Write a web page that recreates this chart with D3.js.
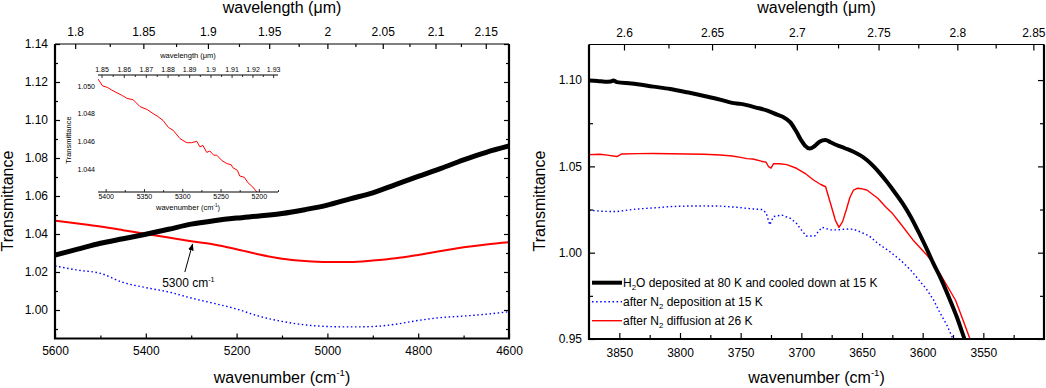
<!DOCTYPE html>
<html><head><meta charset="utf-8">
<script src="https://cdn.jsdelivr.net/npm/d3@7"></script>
<style>
body{margin:0;background:#fff}
svg{display:block;font-family:"Liberation Sans",Arial,Helvetica,sans-serif}
</style></head><body>
<svg id="chart" width="1046" height="388"></svg>
<script>
// ---------- DATA ----------
// Left panel (near-IR)
const nirWn     = [5600,5550,5500,5450,5400,5350,5300,5250,5200,5150,5100,5050,5000,4950,4900,4850,4800,4750,4700,4650,4600];
const nirH2O    = [1.0289,1.0320,1.0351,1.0375,1.0399,1.0425,1.0452,1.0470,1.0484,1.0495,1.0508,1.0528,1.0552,1.0585,1.0617,1.0660,1.0703,1.0745,1.0790,1.0830,1.0863];
const nirN2Dep  = [1.0232,1.0210,1.0193,1.0145,1.0118,1.0095,1.0063,1.0035,1.0005,0.9967,0.9940,0.9922,0.9913,0.9911,0.9913,0.9925,0.9945,0.9960,0.9968,0.9978,0.9991];
const nirN2Diff = [1.0470,1.0455,1.0439,1.0420,1.0400,1.0381,1.0362,1.0345,1.0320,1.0292,1.0270,1.0258,1.0252,1.0252,1.0260,1.0272,1.0290,1.0310,1.0330,1.0345,1.0356];
// Inset (zoom around 5300 cm-1)
const insetWn = [5410,5404,5398,5392,5385,5378,5372,5364,5355,5346,5338,5332,5325,5318,5312,5303,5294,5288,5281,5277,5273,5268,5264,5259,5255,5248,5242,5236,5234,5228,5225,5219,5214,5208,5202,5196];
const insetT  = [1.0505,1.0500,1.0499,1.0497,1.0495,1.0493,1.0491,1.0490,1.0485,1.0483,1.0480,1.0478,1.0475,1.0470,1.0468,1.0462,1.0459,1.0459,1.0460,1.0456,1.0457,1.0452,1.0453,1.0450,1.0450,1.0446,1.0444,1.0443,1.0441,1.0439,1.0435,1.0434,1.0430,1.0427,1.0423,1.0419];
// Right panel (OH stretch region)
const mirH2OWn = [3875,3868,3862,3857,3855,3852,3840,3822,3808,3794,3780,3767,3757,3750,3745,3738,3728,3720,3715,3709,3704,3700,3697,3693,3689,3685,3680,3676,3671,3664,3657,3651,3646,3640,3635,3630,3624,3616,3610,3602,3596,3591,3585,3577.5,3572,3566.5,3562];
const mirH2O   = [1.0997,1.0995,1.0990,1.0992,1.0998,1.0988,1.0980,1.0962,1.0948,1.0929,1.0908,1.0887,1.0868,1.0862,1.0855,1.0842,1.0823,1.0800,1.0786,1.0755,1.0700,1.0650,1.0620,1.0603,1.0618,1.0643,1.0653,1.0640,1.0624,1.0605,1.0585,1.0562,1.0537,1.0497,1.0458,1.0415,1.0359,1.0280,1.0210,1.0100,1.0012,0.9935,0.9850,0.9726,0.9630,0.9520,0.9430];
const mirN2DepWn = [3875,3865,3852,3845,3835.7,3820,3808,3795,3781,3767,3753,3745,3738,3732,3729,3726,3723,3716,3709,3704,3701,3696,3689,3683,3676,3670,3663,3657,3652,3644,3637,3627,3618,3610,3597,3591,3586,3580,3575,3572];
const mirN2Dep   = [1.0247,1.0240,1.0238,1.0245,1.0253,1.0260,1.0267,1.0270,1.0271,1.0270,1.0263,1.0257,1.0252,1.0250,1.0230,1.0161,1.0209,1.0218,1.0199,1.0170,1.0141,1.0097,1.0097,1.0147,1.0132,1.0132,1.0137,1.0136,1.0122,1.0097,1.0054,1.0006,0.9955,0.9900,0.9790,0.9726,0.9655,0.9580,0.9500,0.9450];
const mirN2DiffWn = [3875,3866,3860,3852,3848,3835,3822,3808,3794,3780,3767,3757,3750,3745,3740,3733,3729,3727,3725,3723,3718,3712,3704,3697,3690,3684,3680,3676,3672,3669,3666,3663,3660,3657,3654,3650,3646,3637,3630,3625,3619,3608,3597,3591,3586,3580,3573,3567,3561,3557];
const mirN2Diff   = [1.0568,1.0570,1.0565,1.0557,1.0572,1.0574,1.0575,1.0573,1.0572,1.0570,1.0566,1.0560,1.0552,1.0545,1.0543,1.0530,1.0524,1.0498,1.0490,1.0515,1.0515,1.0510,1.0489,1.0460,1.0421,1.0395,1.0382,1.0286,1.0189,1.0147,1.0180,1.0247,1.0320,1.0363,1.0373,1.0370,1.0363,1.0315,1.0262,1.0228,1.0175,1.0074,0.9990,0.9935,0.9881,0.9810,0.9726,0.9615,0.9500,0.9440];

// Ticks
const nirWnMajor = [5600,5400,5200,5000,4800,4600];
const nirWnMinor = [5500,5300,5100,4900,4700];
const nirLamMajor = [1.8,1.85,1.9,1.95,2,2.05,2.1,2.15];
const nirLamMinor = [1.825,1.875,1.925,1.975,2.025,2.075,2.125];
const nirTMajor = [1.00,1.02,1.04,1.06,1.08,1.10,1.12,1.14];
const nirTMinor = [0.99,1.01,1.03,1.05,1.07,1.09,1.11,1.13];
const insetWnMajor = [5400,5350,5300,5250,5200];
const insetWnMinor = [5375,5325,5275,5225,5175];
const insetLamMajor = [1.85,1.86,1.87,1.88,1.89,1.9,1.91,1.92,1.93];
const insetLamMinor = [1.855,1.865,1.875,1.885,1.895,1.905,1.915,1.925];
const insetTMajor = [1.044,1.046,1.048,1.050];
const mirWnMajor = [3850,3800,3750,3700,3650,3600,3550];
const mirWnMinor = [3825,3775,3725,3675,3625,3575,3525];
const mirLamMajor = [2.6,2.65,2.7,2.75,2.8,2.85];
const mirLamMinor = [2.625,2.675,2.725,2.775,2.825];
const mirTMajor = [0.95,1.00,1.05,1.10];
const mirTMinor = [0.975,1.025,1.075];

const legendLabels = [
  ["H","2","O deposited at 80 K and cooled down at 15 K"],
  ["after N","2"," deposition at 15 K"],
  ["after N","2"," diffusion at 26 K"]
];
const annotationText = "5300 cm";

// ---------- DRAW ----------
const svg = d3.select("#chart");
const styles = {
  dep:  {stroke:"#0000ff", width:1.4, dash:"1.5,2.6"}
};

function lamFmt(w){ return String(+(1e4/w).toFixed(3)); }

function drawAxes(g, x, y, box, o){
  const fs = o.fs || 12;
  const maj = o.maj || 5, min = o.min || 3;
  const clean = s => s.call(a=>a.select(".domain").remove())
    .call(a=>a.selectAll("line").attr("stroke","#000").attr("stroke-width",o.tw||1.2))
    .call(a=>a.selectAll("text").attr("font-size",fs).attr("fill","#000").attr("font-family",null));
  g.append("g").attr("transform",`translate(0,${box.y1})`)
    .call(d3.axisBottom(x).tickValues(o.xMajor).tickSize(-maj).tickPadding(o.bPad).tickFormat(d3.format("d"))).call(clean);
  g.append("g").attr("transform",`translate(0,${box.y1})`)
    .call(d3.axisBottom(x).tickValues(o.xMinor).tickSize(-min).tickFormat("")).call(clean);
  g.append("g").attr("transform",`translate(0,${box.y0})`)
    .call(d3.axisTop(x).tickValues(o.lMajor.map(l=>1e4/l)).tickSize(-maj).tickPadding(o.tPad).tickFormat(lamFmt)).call(clean);
  g.append("g").attr("transform",`translate(0,${box.y0})`)
    .call(d3.axisTop(x).tickValues(o.lMinor.map(l=>1e4/l)).tickSize(-min).tickFormat("")).call(clean);
  g.append("g").attr("transform",`translate(${box.x0},0)`)
    .call(d3.axisLeft(y).tickValues(o.yMajor).tickSize(-maj).tickPadding(o.lPad).tickFormat(o.yFmt)).call(clean);
  g.append("g").attr("transform",`translate(${box.x0},0)`)
    .call(d3.axisLeft(y).tickValues(o.yMinor).tickSize(-min).tickFormat("")).call(clean);
  g.append("g").attr("transform",`translate(${box.x1},0)`)
    .call(d3.axisRight(y).tickValues(o.yMajor).tickSize(-maj).tickFormat("")).call(clean);
  g.append("g").attr("transform",`translate(${box.x1},0)`)
    .call(d3.axisRight(y).tickValues(o.yMinor).tickSize(-min).tickFormat("")).call(clean);
}

function frame(g, box){
  g.append("line").attr("x1",box.x0).attr("x2",box.x1).attr("y1",box.y0).attr("y2",box.y0).attr("stroke","#000").attr("stroke-width",1.2);
  g.append("path").attr("d",`M${box.x0},${box.y0}V${box.y1}H${box.x1}V${box.y0}`).attr("fill","none").attr("stroke","#000").attr("stroke-width",2.2);
}

function drawSeries(g, x, y, xs, ys, st, clipId, curve){
  const line = d3.line().x(d=>x(d[0])).y(d=>y(d[1])).curve(curve||d3.curveLinear);
  const p = g.append("path").datum(xs.map((v,i)=>[v,ys[i]]))
    .attr("d",line).attr("fill","none").attr("stroke",st.stroke).attr("stroke-width",st.width)
    .attr("stroke-linejoin","round");
  if (st.dash) p.attr("stroke-dasharray",st.dash);
  if (clipId) p.attr("clip-path",`url(#${clipId})`);
  return p;
}

function cmLabel(sel, base, sup){
  sel.append("tspan").text(base);
  sel.append("tspan").attr("font-size","0.6em").attr("dy","-0.75em").text(sup);
  sel.append("tspan").attr("dy","0.45em").text(")");
}

const defs = svg.append("defs");

// ===== LEFT PANEL =====
const LB = {x0:55, x1:509, y0:44, y1:338.5};
const xL = d3.scaleLinear().domain([5600,4600]).range([LB.x0,LB.x1]);
const yL = d3.scaleLinear().domain([0.985,1.14]).range([LB.y1,LB.y0]);
const gL = svg.append("g");
defs.append("clipPath").attr("id","clipL").append("rect").attr("x",LB.x0).attr("y",LB.y0).attr("width",LB.x1-LB.x0).attr("height",LB.y1-LB.y0);

drawSeries(gL,xL,yL,nirWn,nirN2Dep,styles.dep,"clipL",d3.curveMonotoneX);
drawSeries(gL,xL,yL,nirWn,nirN2Diff,{stroke:"#ff0000",width:2},"clipL",d3.curveMonotoneX);
drawSeries(gL,xL,yL,nirWn,nirH2O,{stroke:"#000",width:5},"clipL",d3.curveMonotoneX);

drawAxes(gL,xL,yL,LB,{xMajor:nirWnMajor,xMinor:nirWnMinor,lMajor:nirLamMajor,lMinor:nirLamMinor,
  yMajor:nirTMajor,yMinor:nirTMinor,yFmt:d3.format(".2f"),bPad:8,tPad:8,lPad:7});
frame(gL,LB);

// annotation arrow
defs.append("marker").attr("id","arrowhead").attr("viewBox","0 0 10 10").attr("refX",9).attr("refY",5)
  .attr("markerWidth",7).attr("markerHeight",7).attr("orient","auto-start-reverse")
  .append("path").attr("d","M0,1L10,5L0,9Z").attr("fill","#000");
gL.append("line").attr("x1",xL(5314)).attr("y1",yL(1.0200)).attr("x2",xL(5297)).attr("y2",yL(1.0347))
  .attr("stroke","#000").attr("stroke-width",1).attr("marker-end","url(#arrowhead)");
const ann = gL.append("text").attr("x",xL(5364)).attr("y",yL(1.0121)).attr("font-size",12);
ann.append("tspan").text(annotationText);
ann.append("tspan").attr("font-size","0.6em").attr("dy","-0.75em").text("-1");

gL.append("text").attr("x",(LB.x0+LB.x1)/2).attr("y",13).attr("text-anchor","middle").attr("font-size",16).text("wavelength (μm)");
cmLabel(gL.append("text").attr("x",(LB.x0+LB.x1)/2).attr("y",383).attr("text-anchor","middle").attr("font-size",16),"wavenumber (cm","-1");
gL.append("text").attr("transform","translate(13,201) rotate(-90)").attr("text-anchor","middle").attr("font-size",16).text("Transmittance");

// ----- INSET -----
const IB = {x0:98, x1:278, y0:75, y1:192};
const xI = d3.scaleLinear().domain([5410,5175]).range([IB.x0,IB.x1]);
const yI = d3.scaleLinear().domain([1.04234,1.05079]).range([IB.y1,IB.y0]);
const gI = svg.append("g");
defs.append("clipPath").attr("id","clipI").append("rect").attr("x",IB.x0).attr("y",IB.y0).attr("width",IB.x1-IB.x0).attr("height",IB.y1-IB.y0);
drawSeries(gI,xI,yI,insetWn,insetT,{stroke:"#ff0000",width:1},"clipI");
const cleanI = s => s.call(a=>a.select(".domain").remove())
  .call(a=>a.selectAll("line").attr("stroke","#000").attr("stroke-width",0.8))
  .call(a=>a.selectAll("text").attr("font-size",7).attr("fill","#000").attr("font-family",null));
gI.append("g").attr("transform",`translate(0,${IB.y1})`).call(d3.axisBottom(xI).tickValues(insetWnMajor).tickSize(-3).tickPadding(2).tickFormat(d3.format("d"))).call(cleanI);
gI.append("g").attr("transform",`translate(0,${IB.y1})`).call(d3.axisBottom(xI).tickValues(insetWnMinor).tickSize(-2).tickFormat("")).call(cleanI);
gI.append("g").attr("transform",`translate(0,${IB.y0})`).call(d3.axisTop(xI).tickValues(insetLamMajor.map(l=>1e4/l)).tickSize(-3).tickPadding(3).tickFormat(lamFmt)).call(cleanI);
gI.append("g").attr("transform",`translate(0,${IB.y0})`).call(d3.axisTop(xI).tickValues(insetLamMinor.map(l=>1e4/l)).tickSize(-2).tickFormat("")).call(cleanI);
gI.append("g").attr("transform",`translate(${IB.x0},0)`).call(d3.axisLeft(yI).tickValues(insetTMajor).tickSize(0).tickPadding(3).tickFormat(d3.format(".3f"))).call(cleanI);
gI.append("line").attr("x1",IB.x0).attr("x2",IB.x1).attr("y1",IB.y0).attr("y2",IB.y0).attr("stroke","#000").attr("stroke-width",1);
gI.append("line").attr("x1",IB.x0).attr("x2",IB.x1).attr("y1",IB.y1).attr("y2",IB.y1).attr("stroke","#000").attr("stroke-width",1);
gI.append("text").attr("x",188).attr("y",58).attr("text-anchor","middle").attr("font-size",7.5).text("wavelength (μm)");
cmLabel(gI.append("text").attr("x",188).attr("y",210).attr("text-anchor","middle").attr("font-size",7.5),"wavenumber (cm","-1");
gI.append("text").attr("transform","translate(71,140) rotate(-90)").attr("text-anchor","middle").attr("font-size",7.5).text("Transmittance");

// ===== RIGHT PANEL =====
const RB = {x0:589, x1:1044, y0:44.5, y1:339};
const xR = d3.scaleLinear().domain([3875,3500]).range([RB.x0,RB.x1]);
const yR = d3.scaleLinear().domain([0.95,1.1206]).range([RB.y1,RB.y0]);
const gR = svg.append("g");
defs.append("clipPath").attr("id","clipR").append("rect").attr("x",RB.x0).attr("y",RB.y0).attr("width",RB.x1-RB.x0).attr("height",RB.y1-RB.y0);

drawSeries(gR,xR,yR,mirN2DepWn,mirN2Dep,styles.dep,"clipR");
drawSeries(gR,xR,yR,mirN2DiffWn,mirN2Diff,{stroke:"#ff0000",width:1.4},"clipR");
drawSeries(gR,xR,yR,mirH2OWn,mirH2O,{stroke:"#000",width:4},"clipR",d3.curveMonotoneX);

drawAxes(gR,xR,yR,RB,{xMajor:mirWnMajor,xMinor:mirWnMinor,lMajor:mirLamMajor,lMinor:mirLamMinor,
  yMajor:mirTMajor,yMinor:mirTMinor,yFmt:d3.format(".2f"),bPad:9,tPad:8,lPad:7,maj:6,min:4});
frame(gR,RB);

gR.append("text").attr("x",(RB.x0+RB.x1)/2).attr("y",13).attr("text-anchor","middle").attr("font-size",16).text("wavelength (μm)");
cmLabel(gR.append("text").attr("x",(RB.x0+RB.x1)/2).attr("y",383).attr("text-anchor","middle").attr("font-size",16),"wavenumber (cm","-1");
gR.append("text").attr("transform","translate(545,201) rotate(-90)").attr("text-anchor","middle").attr("font-size",16).text("Transmittance");

// legend
const legStyles = [{stroke:"#000",width:4,dash:null}, styles.dep, {stroke:"#ff0000",width:1.4,dash:null}];
const legY = [282.7, 301.7, 320.7];
legendLabels.forEach((lab,i)=>{
  const ln = gR.append("line").attr("x1",592).attr("x2",622).attr("y1",legY[i]).attr("y2",legY[i])
    .attr("stroke",legStyles[i].stroke).attr("stroke-width",legStyles[i].width);
  if (legStyles[i].dash) ln.attr("stroke-dasharray",legStyles[i].dash);
  const t = gR.append("text").attr("x",623).attr("y",legY[i]+4.5).attr("font-size",12);
  t.append("tspan").text(lab[0]);
  t.append("tspan").attr("font-size","0.65em").attr("dy","0.35em").text(lab[1]);
  t.append("tspan").attr("dy","-0.23em").text(lab[2]);
});
</script>
</body></html>
